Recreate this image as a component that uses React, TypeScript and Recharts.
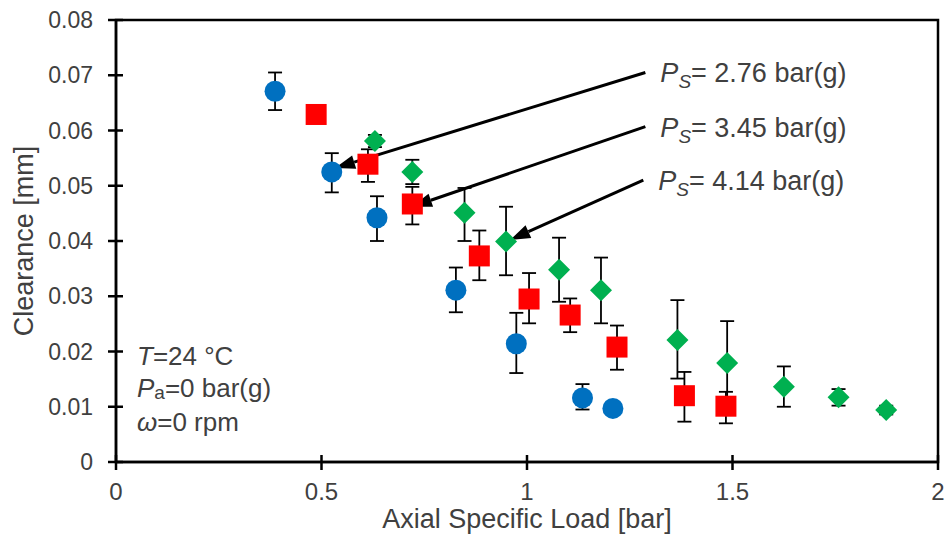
import React from "react";
import {
  ScatterChart,
  Scatter,
  XAxis,
  YAxis,
  ErrorBar,
  ReferenceArea,
  ReferenceLine,
  Label,
} from "recharts";

// Ps = 2.76 bar(g)
const blueX = [0.387, 0.525, 0.635, 0.827, 0.974, 1.135, 1.209];
const blueY = [0.0671, 0.0525, 0.0442, 0.0311, 0.0214, 0.0116, 0.0097];
const blueLow = [0.0034, 0.0037, 0.0042, 0.004, 0.0053, 0.0021, 0.0005];
const blueHigh = [0.0034, 0.0034, 0.0039, 0.0041, 0.0056, 0.0025, 0.0005];

// Ps = 3.45 bar(g)
const redX = [0.487, 0.613, 0.721, 0.884, 1.005, 1.105, 1.219, 1.383, 1.484];
const redY = [0.0629, 0.0539, 0.0467, 0.0373, 0.0295, 0.0266, 0.0208, 0.012, 0.0101];
const redLow = [0.0008, 0.0032, 0.0037, 0.0044, 0.0044, 0.0031, 0.0041, 0.0047, 0.0031];
const redHigh = [0.0008, 0.0027, 0.0031, 0.0046, 0.0047, 0.003, 0.0039, 0.0043, 0.0026];

// Ps = 4.14 bar(g)
const greenX = [0.63, 0.721, 0.848, 0.949, 1.078, 1.18, 1.366, 1.487, 1.625, 1.758, 1.874];
const greenY = [0.0581, 0.0525, 0.0451, 0.0399, 0.0348, 0.0311, 0.0221, 0.0179, 0.0136, 0.0117, 0.0094];
const greenLow = [0.0011, 0.0022, 0.0051, 0.0061, 0.0058, 0.006, 0.007, 0.0076, 0.0036, 0.0015, 0.0008];
const greenHigh = [0.0011, 0.0022, 0.0045, 0.0063, 0.0058, 0.0059, 0.0072, 0.0076, 0.0037, 0.0015, 0.0008];

const xTicks = [0, 0.5, 1, 1.5, 2];
const xTickLabels = ["0", "0.5", "1", "1.5", "2"];
const yTicks = [0, 0.01, 0.02, 0.03, 0.04, 0.05, 0.06, 0.07, 0.08];
const yTickLabels = ["0", "0.01", "0.02", "0.03", "0.04", "0.05", "0.06", "0.07", "0.08"];

// arrows from the pressure labels to the series
const pressureLabels = ["2.76", "3.45", "4.14"];
const arrowTailX = [1.288, 1.288, 1.283];
const arrowTailY = [0.0705, 0.0607, 0.051];
const arrowTipX = [0.533, 0.72, 0.959];
const arrowTipY = [0.0532, 0.0462, 0.0402];

const FONT = "'Liberation Sans', Arial, sans-serif";
const TEXT = "#404040";

function buildSeries(xs: number[], ys: number[], lo: number[], hi: number[]) {
  return xs.map((x, i) => ({ x, y: ys[i], err: [lo[i], hi[i]] }));
}

const blueData = buildSeries(blueX, blueY, blueLow, blueHigh);
const redData = buildSeries(redX, redY, redLow, redHigh);
const greenData = buildSeries(greenX, greenY, greenLow, greenHigh);

function XTick(props: any) {
  const { x, y, index } = props;
  return (
    <g>
      <line x1={x} x2={x} y1={y - 7} y2={y + 8} stroke="#000" strokeWidth={2.5} />
      <text x={x} y={y + 38} textAnchor="middle" fontSize={24} fontFamily={FONT} fill={TEXT}>
        {xTickLabels[index]}
      </text>
    </g>
  );
}

function YTick(props: any) {
  const { x, y, index } = props;
  return (
    <g>
      <line x1={x - 8} x2={x + 7} y1={y} y2={y} stroke="#000" strokeWidth={2.5} />
      <text x={x - 23} y={y + 8} textAnchor="end" fontSize={23} fontFamily={FONT} fill={TEXT}>
        {yTickLabels[index]}
      </text>
    </g>
  );
}

const circleShape = (p: any) => <circle cx={p.cx} cy={p.cy} r={10.5} fill="#0070C0" />;
const squareShape = (p: any) => (
  <rect x={p.cx - 10.5} y={p.cy - 10.5} width={21} height={21} fill="#FF0000" />
);
const diamondShape = (p: any) => (
  <polygon
    points={`${p.cx},${p.cy - 11} ${p.cx + 11},${p.cy} ${p.cx},${p.cy + 11} ${p.cx - 11},${p.cy}`}
    fill="#00B050"
  />
);

function arrowShape(label: string) {
  return (p: any) => {
    const { x1, y1, x2, y2 } = p;
    const dx = x2 - x1;
    const dy = y2 - y1;
    const len = Math.sqrt(dx * dx + dy * dy);
    const ux = dx / len;
    const uy = dy / len;
    const head = 20;
    const half = 7;
    const bx = x2 - ux * head;
    const by = y2 - uy * head;
    return (
      <g>
        <line x1={x1} y1={y1} x2={bx} y2={by} stroke="#000" strokeWidth={3} />
        <polygon
          points={`${x2},${y2} ${bx - uy * half},${by + ux * half} ${bx + uy * half},${by - ux * half}`}
          fill="#000"
        />
        <text x={x1 + 15} y={y1 + 10} fontSize={27} fontFamily={FONT} fill={TEXT}>
          <tspan fontStyle="italic">P</tspan>
          <tspan fontStyle="italic" fontSize={19} dy={6}>S</tspan>
          <tspan dy={-6}>{`= ${label} bar(g)`}</tspan>
        </text>
      </g>
    );
  };
}

function ConditionsText(props: any) {
  const vb = props.viewBox;
  const x = vb.x + 21;
  const bottom = vb.y + vb.height;
  return (
    <g fontFamily={FONT} fill={TEXT} fontSize={26}>
      <text x={x} y={bottom - 97}>
        <tspan fontStyle="italic">T</tspan>
        <tspan>=24 °C</tspan>
      </text>
      <text x={x} y={bottom - 65}>
        <tspan fontStyle="italic">P</tspan>
        <tspan fontSize={19} dy={2}>a</tspan>
        <tspan dy={-2}>=0 bar(g)</tspan>
      </text>
      <text x={x} y={bottom - 31}>
        <tspan fontStyle="italic">ω</tspan>
        <tspan>=0 rpm</tspan>
      </text>
    </g>
  );
}

function XTitle(props: any) {
  const vb = props.viewBox;
  return (
    <text x={vb.x + vb.width / 2} y={vb.y + 66} textAnchor="middle" fontSize={27} fontFamily={FONT} fill={TEXT}>
      Axial Specific Load [bar]
    </text>
  );
}

function YTitle(props: any) {
  const vb = props.viewBox;
  const cy = vb.y + vb.height / 2;
  return (
    <text
      x={33}
      y={cy}
      transform={`rotate(-90, 33, ${cy})`}
      textAnchor="middle"
      fontSize={27}
      fontFamily={FONT}
      fill={TEXT}
    >
      Clearance [mm]
    </text>
  );
}

export default function App() {
  return (
    <div style={{ position: "absolute", left: 0, top: 0, width: 947, height: 547, background: "#fff" }}>
      <ScatterChart width={947} height={547} margin={{ top: 20, right: 9, bottom: 0, left: 0 }}>
        <XAxis
          type="number"
          dataKey="x"
          domain={[0, 2]}
          ticks={xTicks}
          interval={0}
          height={85}
          tickSize={0}
          tickMargin={0}
          tickLine={false}
          axisLine={{ stroke: "#000", strokeWidth: 2.5 }}
          tick={XTick}
        >
          <Label content={XTitle} />
        </XAxis>
        <YAxis
          type="number"
          dataKey="y"
          domain={[0, 0.08]}
          ticks={yTicks}
          interval={0}
          width={116}
          tickSize={0}
          tickMargin={0}
          tickLine={false}
          axisLine={{ stroke: "#000", strokeWidth: 2.5 }}
          tick={YTick}
        >
          <Label content={YTitle} />
        </YAxis>
        <ReferenceArea x1={0} x2={2} y1={0} y2={0.08} fill="none" stroke="#000" strokeWidth={2.5} fillOpacity={0}>
          <Label content={ConditionsText} />
        </ReferenceArea>
        <Scatter data={blueData} shape={circleShape} isAnimationActive={false}>
          <ErrorBar dataKey="err" direction="y" width={7} stroke="#000" strokeWidth={1.8} isAnimationActive={false} />
        </Scatter>
        <Scatter data={redData} shape={squareShape} isAnimationActive={false}>
          <ErrorBar dataKey="err" direction="y" width={7} stroke="#000" strokeWidth={1.8} isAnimationActive={false} />
        </Scatter>
        <Scatter data={greenData} shape={diamondShape} isAnimationActive={false}>
          <ErrorBar dataKey="err" direction="y" width={7} stroke="#000" strokeWidth={1.8} isAnimationActive={false} />
        </Scatter>
        {pressureLabels.map((lab, i) => (
          <ReferenceLine
            key={lab}
            segment={[
              { x: arrowTailX[i], y: arrowTailY[i] },
              { x: arrowTipX[i], y: arrowTipY[i] },
            ]}
            shape={arrowShape(lab)}
          />
        ))}
      </ScatterChart>
    </div>
  );
}
